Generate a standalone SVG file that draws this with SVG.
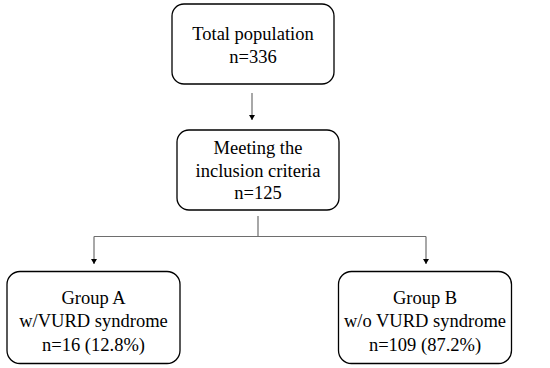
<svg xmlns="http://www.w3.org/2000/svg" width="550" height="368" viewBox="0 0 550 368">
<style>
.box{fill:#fff;stroke:#000;stroke-width:1.3}
.t{font-family:"Liberation Serif","Times New Roman",serif;font-size:18.5px;fill:#000;text-anchor:middle}
.c{fill:none;stroke:#6e6e6e;stroke-width:1.2}
</style>
<defs>
<marker id="ah" markerWidth="6" markerHeight="6" refX="5" refY="3" orient="auto" markerUnits="userSpaceOnUse">
<path d="M0,0 L5,3 L0,6 Z" fill="#000"/>
</marker>
</defs>
<rect width="550" height="368" fill="#fff"/>
<g id="connectors">
<path class="c" d="M252,93 V120" marker-end="url(#ah)"/>
<path class="c" d="M258,216 V236.5 M94,236.5 H426"/>
<path class="c" d="M94,236.5 V264" marker-end="url(#ah)"/>
<path class="c" d="M426,236.5 V264" marker-end="url(#ah)"/>
</g>
<g id="total">
<rect class="box" x="172" y="4" width="162" height="80" rx="12"/>
<text class="t" x="253" y="40">Total population</text>
<text class="t" x="253" y="63">n=336</text>
</g>
<g id="inclusion">
<rect class="box" x="177" y="130" width="162" height="80" rx="12"/>
<text class="t" x="258" y="154">Meeting the</text>
<text class="t" x="258" y="177">inclusion criteria</text>
<text class="t" x="258" y="199">n=125</text>
</g>
<g id="groupA">
<rect class="box" x="7" y="271.5" width="173" height="92" rx="13"/>
<text class="t" x="93.5" y="304">Group A</text>
<text class="t" x="93.5" y="327">w/VURD syndrome</text>
<text class="t" x="93.5" y="351">n=16 (12.8%)</text>
</g>
<g id="groupB">
<rect class="box" x="338.5" y="271.5" width="173" height="92" rx="13"/>
<text class="t" x="425" y="304">Group B</text>
<text class="t" x="425" y="327">w/o VURD syndrome</text>
<text class="t" x="425" y="351">n=109 (87.2%)</text>
</g>
</svg>
